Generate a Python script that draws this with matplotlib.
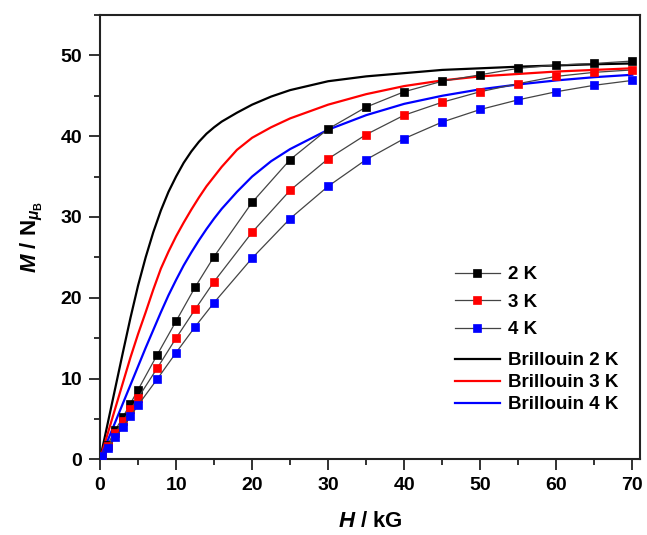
import numpy as np
import matplotlib
matplotlib.use('Agg')
import matplotlib.pyplot as plt
from matplotlib.ticker import MultipleLocator

plt.rcParams['font.family'] = ['Liberation Sans', 'DejaVu Sans']
plt.rcParams['font.weight'] = 'bold'
plt.rcParams['mathtext.fontset'] = 'custom'
plt.rcParams['mathtext.rm'] = 'Liberation Sans:bold'
plt.rcParams['mathtext.it'] = 'Liberation Sans:bold:italic'
plt.rcParams['mathtext.bf'] = 'Liberation Sans:bold'

# measured data (H in kG)
H = [0.25, 1, 2, 3, 4, 5, 7.5, 10, 12.5, 15, 20, 25, 30, 35, 40, 45, 50, 55, 60, 65, 70]
M_2K = [0.45, 1.8, 3.6, 5.2, 6.9, 8.6, 12.9, 17.1, 21.3, 25.1, 31.8, 37.1, 40.9, 43.6, 45.5, 46.8, 47.6, 48.4, 48.8, 49.0, 49.3]
M_3K = [0.4, 1.6, 3.2, 4.7, 6.2, 7.6, 11.25, 15.0, 18.55, 22.0, 28.1, 33.3, 37.2, 40.2, 42.6, 44.2, 45.5, 46.5, 47.4, 47.9, 48.2]
M_4K = [0.35, 1.36, 2.7, 4.0, 5.3, 6.7, 9.9, 13.2, 16.4, 19.4, 24.9, 29.8, 33.8, 37.1, 39.7, 41.75, 43.3, 44.5, 45.5, 46.3, 46.9]

# Brillouin curves
H_b = [0, 1, 2, 3, 4, 5, 6, 7, 8, 9, 10, 11, 12, 13, 14, 15, 16, 18, 20, 22.5, 25, 30, 35, 40, 45, 50, 55, 60, 65, 70]
B_2K = [0, 4.4, 8.8, 13.2, 17.5, 21.5, 25.0, 28.1, 30.8, 33.1, 35.0, 36.7, 38.1, 39.3, 40.3, 41.1, 41.8, 42.9, 43.9, 44.9, 45.7,
        46.8, 47.4, 47.8, 48.2, 48.4, 48.6, 48.75, 48.9, 49.0]
B_3K = [0, 3.15, 6.3, 9.45, 12.6, 15.5, 18.2, 21.0, 23.6, 25.7, 27.6, 29.3, 30.9, 32.4, 33.8, 35.0, 36.2, 38.3, 39.8, 41.1, 42.2,
        43.9, 45.2, 46.2, 46.9, 47.4, 47.7, 48.0, 48.2, 48.4]
B_4K = [0, 2.3, 4.6, 6.9, 9.2, 11.5, 13.8, 16.0, 18.2, 20.3, 22.2, 24.0, 25.6, 27.1, 28.5, 29.8, 31.0, 33.1, 35.0, 36.9, 38.4,
        40.8, 42.6, 44.0, 45.0, 45.8, 46.4, 46.9, 47.3, 47.6]

fig = plt.figure(figsize=(6.47, 5.35), dpi=100)
ax = fig.add_axes([0.1546, 0.1415, 0.8345, 0.8305])

data_lines = []
for M, c, lab in [(M_2K, 'black', '2 K'), (M_3K, 'red', '3 K'), (M_4K, 'blue', '4 K')]:
    l, = ax.plot(H, M, '-s', color='#444444', lw=0.9, mfc=c, mec=c, ms=6, mew=0.5, label=lab, zorder=3)
    data_lines.append(l)

b_lines = []
for B, c, lab in [(B_2K, 'black', 'Brillouin 2 K'), (B_3K, 'red', 'Brillouin 3 K'), (B_4K, 'blue', 'Brillouin 4 K')]:
    l, = ax.plot(H_b, B, color=c, lw=1.6, label=lab, zorder=2)
    b_lines.append(l)

ax.set_xlim(0, 71)
ax.set_ylim(0, 55)
ax.xaxis.set_major_locator(MultipleLocator(10))
ax.xaxis.set_minor_locator(MultipleLocator(5))
ax.yaxis.set_major_locator(MultipleLocator(10))
ax.yaxis.set_minor_locator(MultipleLocator(5))
ax.tick_params(which='major', direction='out', length=8, width=1.3, labelsize=14, color='#222222', pad=5)
ax.tick_params(which='minor', direction='out', length=4, width=1.3, color='#222222')
for s in ax.spines.values():
    s.set_linewidth(1.5)
    s.set_color('#222222')

ax.set_xlabel(r'$H$ / kG', fontsize=16, fontweight='bold', labelpad=12)
ax.set_ylabel(r'$M$ / N$_{\mu_\mathrm{B}}$', fontsize=16, fontweight='bold', labelpad=11)

leg1 = ax.legend(handles=data_lines, loc='upper left', bbox_to_anchor=(0.64, 0.456), frameon=False,
                 fontsize=13.5, handlelength=2.4, handletextpad=0.45, labelspacing=0.55, borderpad=0)
ax.add_artist(leg1)
ax.legend(handles=b_lines, loc='upper left', bbox_to_anchor=(0.64, 0.262), frameon=False,
          fontsize=13.5, handlelength=2.4, handletextpad=0.45, labelspacing=0.26, borderpad=0)

fig.savefig('out.png', dpi=100)
